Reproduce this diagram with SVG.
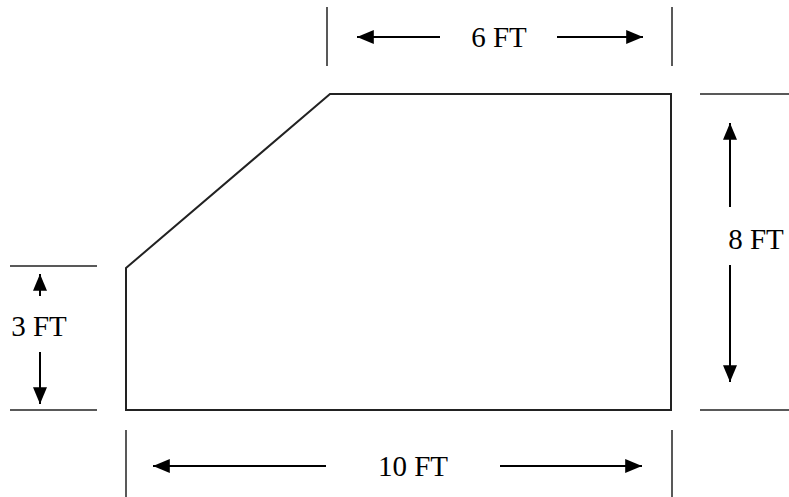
<svg xmlns="http://www.w3.org/2000/svg" width="789" height="497" viewBox="0 0 789 497">
<defs>
<marker id="ah" viewBox="0 0 12 10" refX="12" refY="5" markerWidth="8.4" markerHeight="7" orient="auto" markerUnits="strokeWidth">
<path d="M0,0 L12,5 L0,10 z" fill="#000"/>
</marker>
</defs>
<style>
.shape{fill:#fff;stroke:#222;stroke-width:2}
.ext{stroke:#222;stroke-width:1.5;fill:none}
.dim{stroke:#000;stroke-width:2;fill:none;marker-end:url(#ah)}
.lbl{font-family:"Liberation Serif","Times New Roman",serif;font-size:29px;fill:#000;text-anchor:middle}
</style>
<rect width="789" height="497" fill="#fff"/>
<g id="shape">
<polygon class="shape" points="126,268 330,94 671,94 671,410 126,410"/>
</g>
<g id="connectors">
<line class="ext" x1="327" y1="7" x2="327" y2="66"/>
<line class="ext" x1="672" y1="7" x2="672" y2="66"/>
<line class="dim" x1="440" y1="37" x2="357" y2="37"/>
<line class="dim" x1="557" y1="37" x2="643" y2="37"/>
<line class="ext" x1="10" y1="266" x2="97" y2="266"/>
<line class="ext" x1="10" y1="410" x2="97" y2="410"/>
<line class="dim" x1="40" y1="296" x2="40" y2="274"/>
<line class="dim" x1="40" y1="352" x2="40" y2="404"/>
<line class="ext" x1="700" y1="94" x2="789" y2="94"/>
<line class="ext" x1="700" y1="410" x2="789" y2="410"/>
<line class="dim" x1="730" y1="207" x2="730" y2="123"/>
<line class="dim" x1="730" y1="265" x2="730" y2="382"/>
<line class="ext" x1="126" y1="430" x2="126" y2="497"/>
<line class="ext" x1="672" y1="430" x2="672" y2="497"/>
<line class="dim" x1="326" y1="466" x2="153" y2="466"/>
<line class="dim" x1="500" y1="466" x2="642" y2="466"/>
</g>
<g id="labels">
<text class="lbl" x="499" y="47">6 FT</text>
<text class="lbl" x="39" y="336">3 FT</text>
<text class="lbl" x="756" y="249">8 FT</text>
<text class="lbl" x="413" y="476">10 FT</text>
</g>
</svg>
